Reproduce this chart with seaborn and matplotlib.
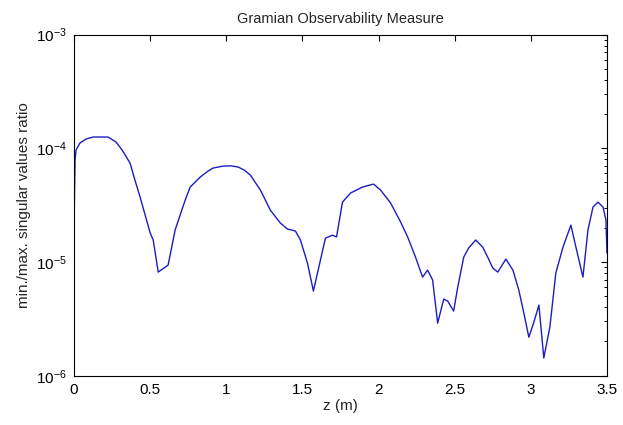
import matplotlib
matplotlib.use("Agg")
import matplotlib.pyplot as plt
import matplotlib.ticker as mticker
import seaborn as sns
import pandas as pd

z_m = [0.000, 0.007, 0.013, 0.039, 0.079, 0.125, 0.224, 0.276, 0.316, 0.368,
       0.400, 0.434, 0.500, 0.520, 0.553, 0.618, 0.664, 0.730, 0.763, 0.829,
       0.880, 0.914, 0.980, 1.030, 1.079, 1.120, 1.158, 1.224, 1.289, 1.355,
       1.401, 1.454, 1.487, 1.533, 1.572, 1.651, 1.697, 1.724, 1.763, 1.816,
       1.895, 1.967, 2.013, 2.079, 2.145, 2.191, 2.243, 2.289, 2.322, 2.355,
       2.388, 2.428, 2.454, 2.493, 2.520, 2.559, 2.592, 2.638, 2.684, 2.717,
       2.750, 2.783, 2.836, 2.882, 2.921, 2.954, 2.987, 3.020, 3.053, 3.085,
       3.125, 3.164, 3.211, 3.263, 3.296, 3.342, 3.375, 3.408, 3.441, 3.474,
       3.493, 3.500]

ratio = [2.11e-5, 7.87e-5, 9.64e-5, 1.111e-4, 1.205e-4, 1.255e-4, 1.255e-4, 1.133e-4, 9.64e-5, 7.41e-5,
         5.25e-5, 3.72e-5, 1.80e-5, 1.56e-5, 8.15e-6, 9.39e-6, 1.91e-5, 3.50e-5, 4.56e-5, 5.58e-5,
         6.30e-5, 6.70e-5, 6.97e-5, 7.00e-5, 6.83e-5, 6.40e-5, 5.81e-5, 4.29e-5, 2.86e-5, 2.20e-5,
         1.95e-5, 1.87e-5, 1.56e-5, 9.78e-6, 5.55e-6, 1.62e-5, 1.72e-5, 1.66e-5, 3.36e-5, 4.04e-5,
         4.56e-5, 4.84e-5, 4.29e-5, 3.30e-5, 2.24e-5, 1.66e-5, 1.10e-5, 7.36e-6, 8.49e-6, 6.93e-6,
         2.90e-6, 4.72e-6, 4.53e-6, 3.70e-6, 6.01e-6, 1.10e-5, 1.33e-5, 1.56e-5, 1.35e-5, 1.10e-5,
         8.84e-6, 8.15e-6, 1.06e-5, 8.49e-6, 5.66e-6, 3.55e-6, 2.18e-6, 2.96e-6, 4.18e-6, 1.43e-6,
         2.68e-6, 7.99e-6, 1.35e-5, 2.11e-5, 1.35e-5, 7.36e-6, 1.91e-5, 3.04e-5, 3.36e-5, 3.04e-5,
         2.34e-5, 1.20e-5]

x_ticks = [0, 0.5, 1, 1.5, 2, 2.5, 3, 3.5]
x_tick_labels = ["0", "0.5", "1", "1.5", "2", "2.5", "3", "3.5"]

title = "Gramian Observability Measure"
x_label = "z (m)"
y_label = "min./max. singular values ratio"

sns.set_style("white")
plt.rcParams["font.family"] = ["Liberation Sans", "DejaVu Sans"]
plt.rcParams["mathtext.fontset"] = "custom"
plt.rcParams["mathtext.rm"] = "Liberation Sans"
plt.rcParams["mathtext.it"] = "Liberation Sans:italic"

df = pd.DataFrame({"z": z_m, "ratio": ratio})

fig = plt.figure(figsize=(6.23, 4.25), dpi=100)
ax = fig.add_axes([0.1188, 0.116, 0.9743 - 0.1188, 0.9188 - 0.116])

sns.lineplot(data=df, x="z", y="ratio", ax=ax, sort=False, estimator=None,
             color="#1c1cc0", linewidth=1.0)

ax.set_yscale("log")
ax.set_ylim(1e-6, 1e-3)
ax.set_xlim(0, 3.5)
ax.set_xticks(x_ticks)
ax.set_xticklabels(x_tick_labels)
ax.yaxis.set_major_locator(mticker.LogLocator(base=10, numticks=10))
ax.yaxis.set_minor_locator(mticker.LogLocator(base=10, subs=range(2, 10), numticks=20))
ax.yaxis.set_minor_formatter(mticker.NullFormatter())

for s in ax.spines.values():
    s.set_color("black")
    s.set_linewidth(0.8)

ax.tick_params(axis="both", which="both", direction="in", top=True, right=True,
               colors="black", labelsize=11)
ax.tick_params(axis="both", which="major", length=4, width=0.8, pad=5)
ax.tick_params(axis="y", which="minor", length=2.5, width=0.7)
ax.tick_params(axis="x", which="minor", bottom=False, top=False)

ax.set_title(title, fontsize=10.5, pad=8)
ax.set_xlabel(x_label, fontsize=11, labelpad=2)
ax.set_ylabel(y_label, fontsize=11, labelpad=4)

fig.savefig("out.png", dpi=100, facecolor="white")
